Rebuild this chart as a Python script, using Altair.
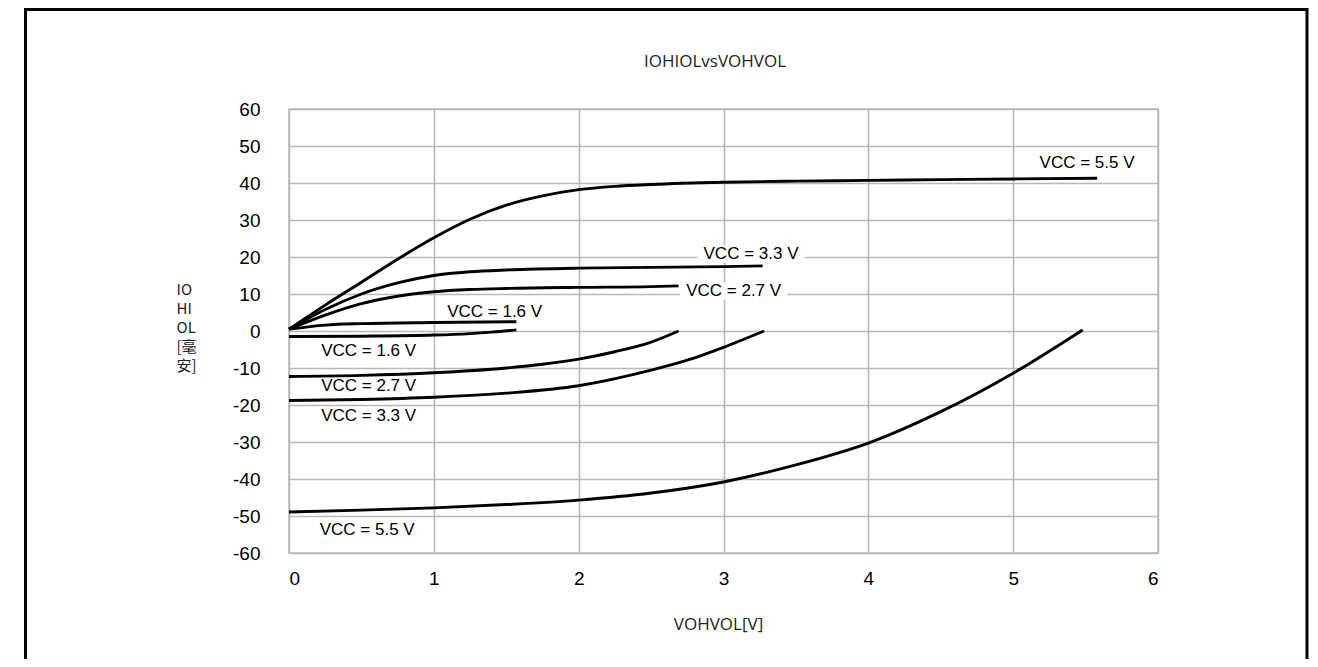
import altair as alt
import pandas as pd

# ---- data ----
chart_title = "IOHIOLvsVOHVOL"
x_title = "VOHVOL[V]"
y_title = ["IO", "HI", "OL", "[毫", "安]"]

x_ticks = [0, 1, 2, 3, 4, 5, 6]
y_ticks = [-60, -50, -40, -30, -20, -10, 0, 10, 20, 30, 40, 50, 60]

# source (IOH) curves
x_55_hi = [0, 0.25, 0.5, 0.75, 1, 1.25, 1.5, 1.75, 2, 2.25, 2.5, 3, 3.5, 4, 4.5, 5, 5.58]
y_55_hi = [0.5, 7, 13.2, 19.4, 25.2, 30.2, 34.0, 36.5, 38.2, 39.1, 39.6, 40.2, 40.5, 40.7, 40.9, 41.1, 41.3]
x_33_hi = [0, 0.25, 0.5, 0.75, 1, 1.25, 1.5, 2, 2.5, 3, 3.27]
y_33_hi = [0.5, 5.8, 10, 13, 15, 16, 16.5, 17, 17.2, 17.4, 17.6]
x_27_hi = [0, 0.25, 0.5, 0.75, 1, 1.25, 1.5, 2, 2.5, 2.69]
y_27_hi = [0.5, 4.3, 7.4, 9.4, 10.6, 11.2, 11.5, 11.8, 12, 12.2]
x_16_hi = [0, 0.25, 0.5, 1, 1.57]
y_16_hi = [0.5, 1.6, 2, 2.3, 2.5]

# sink (IOL) curves
x_16_lo = [0, 0.5, 1, 1.25, 1.4, 1.57]
y_16_lo = [-1.5, -1.4, -1.1, -0.7, -0.3, 0.3]
x_27_lo = [0, 0.5, 1, 1.5, 1.75, 2, 2.25, 2.5, 2.69]
y_27_lo = [-12.3, -12, -11.3, -10, -9, -7.6, -5.6, -3, 0]
x_33_lo = [0, 0.5, 1, 1.5, 2, 2.5, 2.75, 3, 3.28]
y_33_lo = [-18.8, -18.5, -17.9, -16.8, -14.8, -10.6, -7.9, -4.4, 0]
x_55_lo = [0, 0.5, 1, 1.5, 2, 2.5, 3, 3.5, 4, 4.5, 5, 5.48]
y_55_lo = [-48.9, -48.4, -47.8, -46.9, -45.7, -43.8, -40.8, -36.2, -30.3, -21.8, -11.4, 0.3]

series_names = ["5.5 hi", "3.3 hi", "2.7 hi", "1.6 hi", "1.6 lo", "2.7 lo", "3.3 lo", "5.5 lo"]
series_x = [x_55_hi, x_33_hi, x_27_hi, x_16_hi, x_16_lo, x_27_lo, x_33_lo, x_55_lo]
series_y = [y_55_hi, y_33_hi, y_27_hi, y_16_hi, y_16_lo, y_27_lo, y_33_lo, y_55_lo]

label_text = ["VCC = 5.5 V", "VCC = 3.3 V", "VCC = 2.7 V", "VCC = 1.6 V",
              "VCC = 1.6 V", "VCC = 2.7 V", "VCC = 3.3 V", "VCC = 5.5 V"]
label_x = [5.51, 3.19, 3.07, 1.42, 0.55, 0.55, 0.55, 0.54]
label_y = [45.4, 20.8, 10.8, 5.1, -5.4, -14.9, -23.0, -53.8]
label_boxed = [False, True, True, False, False, False, False, False]

# ---- tables ----
rows = []
for name, xs, ys in zip(series_names, series_x, series_y):
    for xv, yv in zip(xs, ys):
        rows.append({"series": name, "v": xv, "i": yv})
curves = pd.DataFrame(rows)

labels = pd.DataFrame({"text": label_text, "v": label_x, "i": label_y, "boxed": label_boxed})
boxes = labels[labels["boxed"]].copy()
boxes["v0"] = boxes["v"] - 0.37
boxes["v1"] = boxes["v"] + 0.37
boxes["i0"] = boxes["i"] - 2.3
boxes["i1"] = boxes["i"] + 2.3

GRID = "#b8b8b8"

xscale = alt.Scale(domain=[0, 6], nice=False)
yscale = alt.Scale(domain=[-60, 60], nice=False)

x_axis = alt.Axis(
    values=x_ticks, format="d", title=x_title,
    grid=True, gridColor=GRID, gridWidth=1.6, domain=False,
    ticks=False, tickSize=0, labelPadding=16,
    labelFont="Liberation Sans", labelFontSize=19, labelColor="#000000",
    titleFont="Open Sans", titleFontSize=17, titleFontWeight="normal", titleColor="#222222",
    titleAnchor="start", titleAlign="center", titleBaseline="alphabetic",
    titleX=429, titleY=76,
)
y_axis = alt.Axis(
    values=y_ticks, format="d", title=y_title,
    labelExpr="replace(datum.label, '\u2212', '-')",
    grid=True, gridColor=GRID, gridWidth=1.6, domain=False,
    ticks=False, tickSize=0, labelPadding=29,
    labelFont="Liberation Sans", labelFontSize=19, labelColor="#000000",
    titleFont="Noto Sans CJK SC", titleFontSize=15, titleFontWeight="normal", titleColor="#222222",
    titleAngle=0, titleAlign="left", titleBaseline="top", titleLineHeight=19,
    titleX=-113, titleY=173,
)

lines = alt.Chart(curves).mark_line(color="black", strokeWidth=2.9, interpolate="monotone").encode(
    x=alt.X("v:Q", scale=xscale, axis=x_axis),
    y=alt.Y("i:Q", scale=yscale, axis=y_axis),
    detail="series:N",
)

bg = alt.Chart(boxes).mark_rect(color="white").encode(
    x=alt.X("v0:Q", scale=xscale, axis=x_axis),
    x2="v1:Q",
    y=alt.Y("i0:Q", scale=yscale, axis=y_axis),
    y2="i1:Q",
)

texts = alt.Chart(labels).mark_text(
    font="Liberation Sans", fontSize=17, color="black", align="center", baseline="middle"
).encode(
    x=alt.X("v:Q", scale=xscale, axis=x_axis),
    y=alt.Y("i:Q", scale=yscale, axis=y_axis),
    text="text:N",
)

one = pd.DataFrame({"t": [chart_title]})
title_mark = alt.Chart(one).mark_text(
    font="Open Sans", fontSize=17, color="#222222", align="center", baseline="alphabetic"
).encode(x=alt.value(426), y=alt.value(-42), text="t:N")

frame = alt.Chart(one).mark_rect(filled=False, stroke="black", strokeWidth=3).encode(
    x=alt.value(-263.5), x2=alt.value(1018), y=alt.value(-99.5), y2=alt.value(700)
)

chart = alt.layer(bg, lines, texts, title_mark, frame).properties(
    width=869, height=444,
    autosize="none",
    padding={"left": 281, "top": 101, "right": 152, "bottom": 106},
).configure_view(stroke=GRID, strokeWidth=1.6)

chart.save("out.html", embed_options={"renderer": "svg", "actions": False})
